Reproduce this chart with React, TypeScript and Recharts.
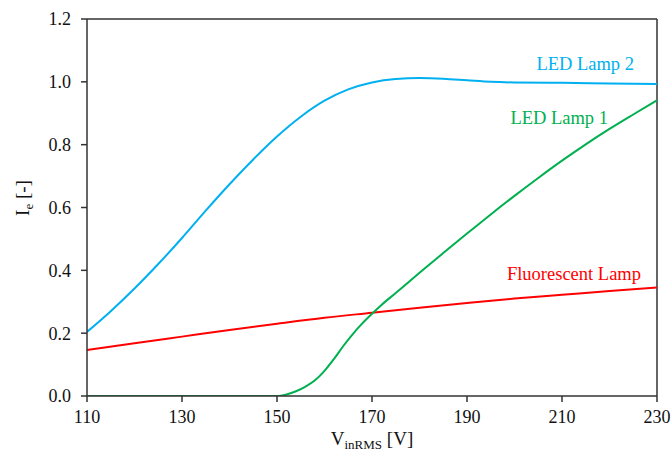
import React from "react";
import { LineChart, Line, XAxis, YAxis, ReferenceLine, Label } from "recharts";

const xTicks = [110, 130, 150, 170, 190, 210, 230];
const yTicks = [0, 0.2, 0.4, 0.6, 0.8, 1.0, 1.2];

const led2V = [110, 115, 120, 125, 130, 135, 140, 145, 150, 155, 160, 165, 170, 175, 180, 185, 190, 195, 200, 210, 220, 230];
const led2I = [0.204, 0.27, 0.342, 0.42, 0.503, 0.59, 0.674, 0.753, 0.826, 0.889, 0.94, 0.976, 0.998, 1.009, 1.012, 1.01, 1.005, 1.0, 0.998, 0.997, 0.995, 0.993];

const led1V = [110, 113, 150, 152, 154, 156, 158, 160, 162, 164, 166, 168, 170, 172, 175, 180, 185, 190, 195, 200, 205, 210, 215, 220, 225, 230];
const led1I = [0, 0, null, 0.005, 0.015, 0.03, 0.05, 0.08, 0.118, 0.16, 0.198, 0.232, 0.262, 0.29, 0.328, 0.392, 0.455, 0.517, 0.578, 0.637, 0.694, 0.749, 0.801, 0.85, 0.896, 0.941];
const led1Start = [150];
const led1StartI = [0];

const fluoV = [110, 120, 130, 140, 150, 160, 170, 180, 190, 200, 210, 220, 230];
const fluoI = [0.146, 0.168, 0.189, 0.21, 0.23, 0.249, 0.265, 0.281, 0.296, 0.31, 0.322, 0.334, 0.345];

const toData = (xs: number[], ys: (number | null)[]) => xs.map((v, i) => ({ v, i: ys[i] }));
const led2Data = toData(led2V, led2I);
const led1Data = toData(led1V, led1I.map((y, k) => (led1V[k] === led1Start[0] ? led1StartI[0] : y)));
const fluoData = toData(fluoV, fluoI);

const FONT = "Liberation Serif, Times New Roman, serif";
const AXIS = "#333";

const endLabel = (n: number, text: string, color: string, dx: number, dy: number) => (props: any) => {
  if (props.index !== n - 1) return null;
  return (
    <text x={props.x + dx} y={props.y + dy} textAnchor="end" fill={color} style={{ fontFamily: FONT, fontSize: 18.5 }}>
      {text}
    </text>
  );
};

export default function App() {
  return (
    <div style={{ position: "absolute", left: 0, top: 0, background: "#fff", fontFamily: FONT }}>
      <LineChart width={672} height={453} margin={{ top: 19, right: 15, bottom: 0, left: 0 }} style={{ fontFamily: FONT }}>
        <XAxis
          dataKey="v"
          type="number"
          domain={[110, 230]}
          ticks={xTicks}
          allowDataOverflow
          height={57}
          tickSize={6}
          tickMargin={8}
          stroke={AXIS}
          strokeWidth={1.5}
          tick={{ fill: "#111", fontSize: 18, style: { fontFamily: FONT } }}
        >
          <Label
            content={(p: any) => {
              const vb = p.viewBox;
              const cx = vb.x + vb.width / 2;
              return (
                <text x={cx} y={445} textAnchor="middle" fill="#111" style={{ fontFamily: FONT, fontSize: 19 }}>
                  V<tspan style={{ fontSize: 13 }} dy={4}>inRMS</tspan>
                  <tspan dy={-4}> [V]</tspan>
                </text>
              );
            }}
          />
        </XAxis>
        <YAxis
          type="number"
          domain={[0, 1.2]}
          ticks={yTicks}
          allowDataOverflow
          width={87}
          tickSize={6}
          tickMargin={10}
          stroke={AXIS}
          strokeWidth={1.5}
          tickFormatter={(t: number) => t.toFixed(1)}
          tick={{ fill: "#111", fontSize: 18, style: { fontFamily: FONT } }}
        >
          <Label
            content={() => (
              <text
                x={29}
                y={198}
                transform="rotate(-90, 29, 198)"
                textAnchor="middle"
                fill="#111"
                style={{ fontFamily: FONT, fontSize: 19 }}
              >
                I<tspan style={{ fontSize: 13 }} dy={4}>e</tspan>
                <tspan dy={-4}> [-]</tspan>
              </text>
            )}
          />
        </YAxis>
        <ReferenceLine y={1.2} stroke={AXIS} strokeWidth={1.5} />
        <ReferenceLine x={230} stroke={AXIS} strokeWidth={1.5} />
        <Line
          data={fluoData}
          dataKey="i"
          type="monotone"
          stroke="#FF0000"
          strokeWidth={2}
          dot={false}
          isAnimationActive={false}
          label={endLabel(fluoData.length, "Fluorescent Lamp", "#FF0000", -16, -8)}
        />
        <Line
          data={led1Data}
          dataKey="i"
          type="monotone"
          stroke="#00B050"
          strokeWidth={2}
          dot={false}
          isAnimationActive={false}
          label={endLabel(led1Data.length, "LED Lamp 1", "#00B050", -49, 24)}
        />
        <Line
          data={led2Data}
          dataKey="i"
          type="monotone"
          stroke="#00B0F0"
          strokeWidth={2}
          dot={false}
          isAnimationActive={false}
          label={endLabel(led2Data.length, "LED Lamp 2", "#00B0F0", -23, -14)}
        />
      </LineChart>
    </div>
  );
}
